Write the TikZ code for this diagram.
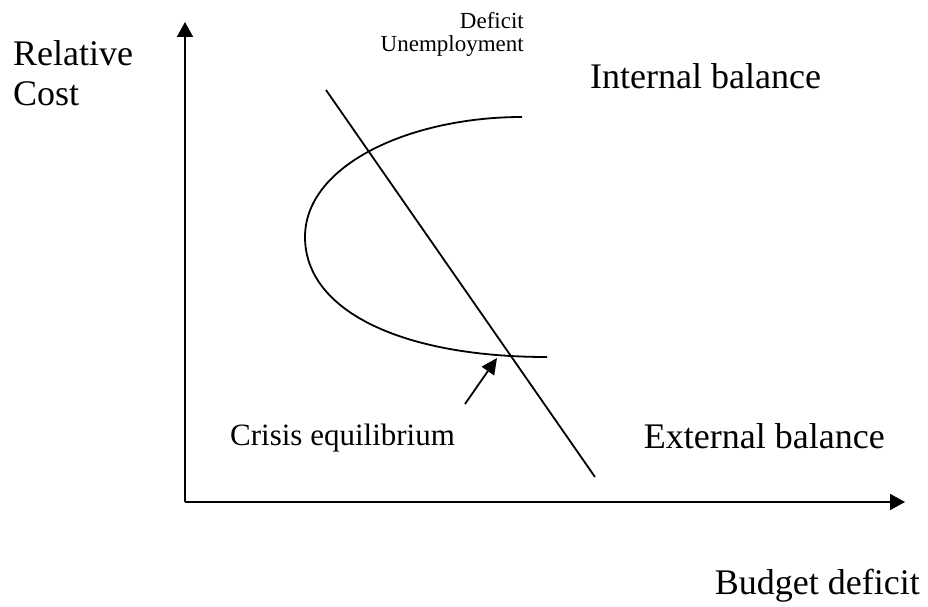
\documentclass[tikz,border=0pt]{standalone}
\usepackage{fontspec}
\setmainfont{Liberation Serif}
\usetikzlibrary{arrows.meta,positioning}

\begin{document}
\begin{tikzpicture}[
  x=1bp, y=-1bp,
  >={Triangle[length=15bp,width=16bp]},
  % Styles
  axisline/.style={->,line width=1.8bp},
  curveline/.style={line width=1.8bp},
  pointer/.style={-{Triangle[length=16bp,width=15bp]},line width=1.8bp},
  bigtext/.style={font=\fontsize{36bp}{40bp}\selectfont,inner sep=0pt},
  midtext/.style={font=\fontsize{31bp}{36bp}\selectfont,inner sep=0pt},
  smalltext/.style={font=\fontsize{23bp}{23bp}\selectfont,inner sep=0pt},
  ]
\useasboundingbox (0,0) rectangle (928,607);

%--- Axes -----------------------------------------------------------
\coordinate (origin) at (185,502);
\coordinate (ytip) at (185,22);
\coordinate (xtip) at (905,502);
\draw[axisline] (origin) -- (ytip);
\draw[axisline] (origin) -- (xtip);

% Axis labels
\node[bigtext, anchor=base west, align=left] (ylabel) at (13,106) {Relative\\Cost};
\node[bigtext, anchor=base east] (xlabel) at (920,594) {Budget deficit};

%--- External balance line ------------------------------------------
\coordinate (ext1) at (326,90);
\coordinate (ext2) at (595,477);
\draw[curveline] (ext1) -- (ext2);

%--- Internal balance curve -----------------------------------------
\coordinate (int1) at (522,117);
\coordinate (intv) at (305,237);
\coordinate (int2) at (547,357);
\draw[curveline] (int1) .. controls (410,117) and (305,165) .. (intv)
  .. controls (305,310) and (400,357) .. (int2);

%--- Labels ---------------------------------------------------------
\node[smalltext, anchor=base east, align=right] (zone) at (524,52) {Deficit\\Unemployment};
\node[bigtext, anchor=base west] (intlabel) at (590,89) {Internal balance};
\node[bigtext, anchor=base east] (extlabel) at (885,448) {External balance};

% Crisis point and its pointer
\coordinate (crisis) at (497,358);
\node[midtext, anchor=base west] (crisislabel) at (230,445) {Crisis equilibrium};
\coordinate (ptail) at (465,404);
\draw[pointer] (ptail) -- (crisis);

\end{tikzpicture}
\end{document}
